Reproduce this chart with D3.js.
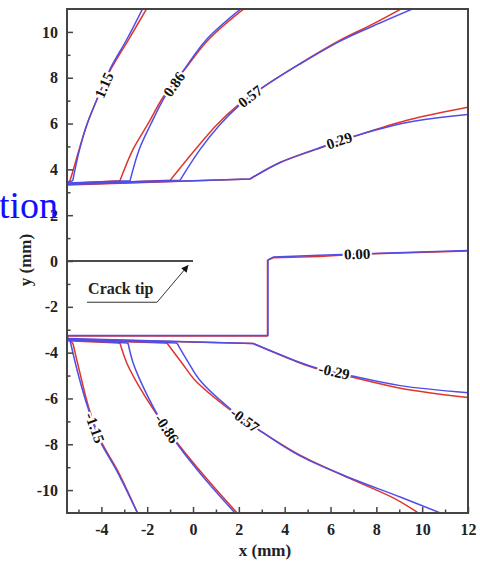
<!DOCTYPE html>
<html><head><meta charset="utf-8">
<script src="https://cdn.jsdelivr.net/npm/d3@7"></script>
<style>body{margin:0;background:#fff}svg{display:block}</style>
</head><body><div id="chart"></div>
<script>
// ---- data (x, y in mm) ----
const xMajor = [-4,-2,0,2,4,6,8,10,12];
const xMinor = [-5,-3,-1,1,3,5,7,9,11];
const yMajor = [-10,-8,-6,-4,-2,0,2,4,6,8,10];
const yMinor = [-9,-7,-5,-3,-1,1,3,5,7,9];

const blueP115 = [[-5.5,3.44],[-5.25,3.5],[-5.15,3.99],[-4.95,4.87],[-4.63,5.96],[-4.19,7.06],[-3.62,8.38],[-2.88,9.69],[-2.18,11.05]];
const redP115  = [[-5.5,3.42],[-5.37,3.5],[-5.22,4.0],[-4.97,4.87],[-4.63,5.96],[-4.19,7.06],[-3.58,8.38],[-2.8,9.69],[-2.0,11.05]];
const blueP086 = [[-5.5,3.4],[-2.75,3.5],[-2.35,4.87],[-1.85,5.96],[-1.22,7.19],[-0.44,8.29],[0.61,9.69],[2.14,11.05]];
const redP086  = [[-5.5,3.38],[-3.19,3.5],[-2.62,4.87],[-1.98,5.96],[-1.28,7.19],[-0.42,8.29],[0.7,9.69],[2.27,11.05]];
const blueP057 = [[-5.5,3.37],[-0.57,3.52],[0.31,4.87],[1.18,5.96],[1.97,6.75],[3.06,7.59],[4.67,8.6],[6.42,9.6],[7.86,10.26],[9.69,11.05]];
const redP057  = [[-5.5,3.35],[-1.0,3.52],[0.1,4.87],[1.05,5.96],[1.9,6.75],[3.06,7.59],[4.67,8.62],[6.42,9.64],[7.86,10.35],[9.17,11.05]];
const blueP029 = [[-5.5,3.34],[2.49,3.58],[3.8,4.3],[5.68,5.0],[6.99,5.44],[9.34,6.05],[12,6.4]];
const redP029  = [[-5.5,3.32],[2.49,3.58],[3.8,4.3],[5.68,4.97],[6.99,5.42],[9.34,6.14],[12,6.71]];
const blueZero = [[-5.5,-3.25],[3.27,-3.25],[3.27,0.05],[3.5,0.17],[5.5,0.25],[7.16,0.31],[12,0.46]];
const redZero  = [[-5.5,-3.27],[3.25,-3.27],[3.25,0.03],[3.5,0.14],[5.5,0.2],[7.16,0.29],[12,0.44]];
const blueM029 = [[-5.5,-3.38],[2.62,-3.6],[4.67,-4.43],[5.46,-4.69],[6.86,-5.0],[9.04,-5.44],[12,-5.75]];
const redM029  = [[-5.5,-3.4],[2.62,-3.6],[4.67,-4.45],[5.46,-4.72],[6.86,-5.05],[9.04,-5.55],[12,-5.96]];
const blueM057 = [[-5.5,-3.42],[-0.7,-3.58],[-0.22,-4.4],[0.31,-5.22],[1.62,-6.45],[2.93,-7.41],[4.67,-8.51],[6.86,-9.47],[9.04,-10.3],[10.92,-11.05]];
const redM057  = [[-5.5,-3.45],[-1.14,-3.58],[-0.5,-4.43],[0.1,-5.22],[1.55,-6.45],[2.93,-7.41],[4.67,-8.48],[6.86,-9.5],[8.82,-10.38],[9.91,-11.05]];
const blueM086 = [[-5.5,-3.45],[-2.84,-3.58],[-2.62,-4.43],[-2.3,-5.22],[-1.57,-6.67],[-0.7,-7.98],[0.52,-9.52],[1.88,-11.05]];
const redM086  = [[-5.5,-3.48],[-3.19,-3.58],[-2.9,-4.43],[-2.5,-5.22],[-1.6,-6.67],[-0.66,-7.98],[0.61,-9.52],[1.97,-11.05]];
const blueM115 = [[-5.5,-3.3],[-5.37,-3.46],[-5.02,-4.91],[-4.59,-6.4],[-4.06,-7.85],[-3.32,-9.17],[-2.4,-11.05]];
const redM115  = [[-5.5,-3.35],[-5.24,-3.6],[-4.93,-4.91],[-4.55,-6.4],[-4.02,-7.85],[-3.28,-9.17],[-2.4,-11.05]];

const levelNames = ["1.15","0.86","0.57","0.29","0.00","-0.29","-0.57","-0.86","-1.15"];
const blueLines = [blueP115,blueP086,blueP057,blueP029,blueZero,blueM029,blueM057,blueM086,blueM115];
const redLines  = [redP115,redP086,redP057,redP029,redZero,redM029,redM057,redM086,redM115];
const labelPos  = [[-3.89,7.68],[-0.83,7.72],[2.49,7.19],[6.38,5.26],[7.16,0.31],[6.16,-4.82],[2.27,-6.93],[-1.14,-7.32],[-4.28,-7.28]];

const crackLine = [[-5.5,0],[0,0]];
const crackLeader = [[-4.63,-1.8],[-1.57,-1.8],[-0.22,-0.2]];
const crackText = {text:"Crack tip", x:-4.58, y:-1.42};

// ---- layout ----
const W = 480, H = 566;
const svg = d3.select("#chart").append("svg").attr("width",W).attr("height",H);
const x = d3.scaleLinear().domain([-5.5,12]).range([67,468]);
const y = d3.scaleLinear().domain([-11,11]).range([513,9]);
const serif = "'Times New Roman','Liberation Serif',serif";
const RED = "#e0352c", BLUE = "#4f4ee6";

const lineStraight = d3.line().x(d=>x(d[0])).y(d=>y(d[1]));
const lineSmooth = d3.line().x(d=>x(d[0])).y(d=>y(d[1])).curve(d3.curveCatmullRom.alpha(0.5));
// straight run along the notch face, then a smooth contour with a sharp corner between
const pathFor = (d,i) => i===4 ? lineStraight(d) : lineStraight(d.slice(0,2)) + lineSmooth(d.slice(1));

// clip
svg.append("clipPath").attr("id","clip").append("rect")
  .attr("x",x(-5.5)).attr("y",y(11)).attr("width",x(12)-x(-5.5)).attr("height",y(-11)-y(11));
const plot = svg.append("g").attr("clip-path","url(#clip)");

plot.selectAll("path.red").data(redLines).join("path").attr("class","red")
  .attr("d",pathFor).attr("fill","none").attr("stroke",RED).attr("stroke-width",1.5)
  .attr("stroke-linejoin","round");
plot.selectAll("path.blue").data(blueLines).join("path").attr("class","blue")
  .attr("d",pathFor).attr("fill","none").attr("stroke",BLUE).attr("stroke-width",1.5)
  .attr("stroke-linejoin","round");

// contour labels, angle taken from the nearest blue segment
function angleAt(pts, p){
  let best=null, bd=Infinity;
  for(let i=0;i<pts.length-1;i++){
    const a=[x(pts[i][0]),y(pts[i][1])], b=[x(pts[i+1][0]),y(pts[i+1][1])];
    const mx=(a[0]+b[0])/2, my=(a[1]+b[1])/2;
    const d=(mx-p[0])**2+(my-p[1])**2;
    if(d<bd){bd=d;best=[a,b];}
  }
  let ang = Math.atan2(best[1][1]-best[0][1], best[1][0]-best[0][0])*180/Math.PI;
  if(ang>90) ang-=180; if(ang<-90) ang+=180;
  return ang;
}
const lab = svg.append("g");
levelNames.forEach((name,i)=>{
  const px=x(labelPos[i][0]), py=y(labelPos[i][1]);
  const ang = angleAt(blueLines[i],[px,py]);
  lab.append("text").attr("transform",`translate(${px},${py}) rotate(${ang})`)
    .attr("text-anchor","middle").attr("dy","0.35em")
    .attr("font-family",serif).attr("font-weight","bold").attr("font-size",15)
    .attr("fill","#111").attr("stroke","#fff").attr("stroke-width",4)
    .attr("paint-order","stroke").text(name);
});

// crack line and annotation
svg.append("path").attr("d",lineStraight(crackLine)).attr("stroke","#111").attr("stroke-width",1.5).attr("fill","none");
svg.append("defs").append("marker").attr("id","arr").attr("viewBox","0 0 10 10")
  .attr("refX",9).attr("refY",5).attr("markerWidth",11).attr("markerHeight",7).attr("orient","auto")
  .attr("markerUnits","userSpaceOnUse")
  .append("path").attr("d","M0,0 L10,5 L0,10 Z").attr("fill","#111");
svg.append("path").attr("d",lineStraight(crackLeader)).attr("stroke","#333").attr("stroke-width",1)
  .attr("fill","none").attr("marker-end","url(#arr)");
svg.append("text").attr("x",x(crackText.x)).attr("y",y(crackText.y))
  .attr("font-family",serif).attr("font-weight","bold").attr("font-size",16).attr("fill","#222")
  .text(crackText.text);

// axes
const axColor="#444";
const gx = svg.append("g").attr("transform",`translate(0,${y(-11)})`)
  .call(d3.axisBottom(x).tickValues(xMajor).tickSize(-6).tickPadding(11).tickFormat(d3.format("d")));
const gxm = svg.append("g").attr("transform",`translate(0,${y(-11)})`)
  .call(d3.axisBottom(x).tickValues(xMinor).tickSize(-3.5).tickFormat(""));
const gy = svg.append("g").attr("transform",`translate(${x(-5.5)},0)`)
  .call(d3.axisLeft(y).tickValues(yMajor).tickSize(-6).tickPadding(9).tickFormat(d3.format("d")));
const gym = svg.append("g").attr("transform",`translate(${x(-5.5)},0)`)
  .call(d3.axisLeft(y).tickValues(yMinor).tickSize(-3.5).tickFormat(""));
[gx,gxm,gy,gym].forEach(g=>{
  g.select(".domain").remove();
  g.selectAll(".tick line").attr("stroke",axColor).attr("stroke-width",1.5);
  g.selectAll("text").attr("font-family",serif).attr("font-weight","bold").attr("font-size",16).attr("fill","#222");
});
gx.selectAll("text").text(d=>d<0?"-"+Math.abs(d):d);
gy.selectAll("text").text(d=>d<0?"-"+Math.abs(d):d);

svg.append("rect").attr("x",x(-5.5)).attr("y",y(11)).attr("width",x(12)-x(-5.5)).attr("height",y(-11)-y(11))
  .attr("fill","none").attr("stroke",axColor).attr("stroke-width",2);

// axis titles
svg.append("text").attr("x",265).attr("y",556).attr("text-anchor","middle")
  .attr("font-family",serif).attr("font-weight","bold").attr("font-size",17).attr("fill","#222").text("x (mm)");
svg.append("text").attr("transform","translate(31,260) rotate(-90)").attr("text-anchor","middle")
  .attr("font-family",serif).attr("font-weight","bold").attr("font-size",17).attr("fill","#222").text("y (mm)");

// stray heading fragment
svg.append("text").attr("x",58).attr("y",218).attr("text-anchor","end")
  .attr("font-family",serif).attr("font-size",38).attr("fill","#1010ff").text("tion");
</script></body></html>
